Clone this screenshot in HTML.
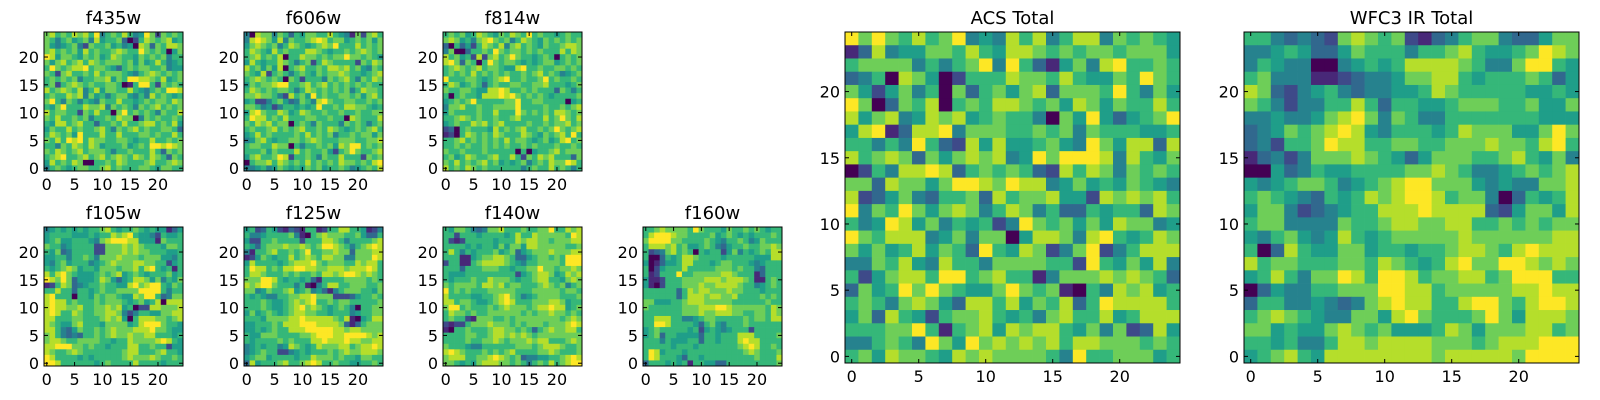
<!DOCTYPE html>
<html><head><meta charset="utf-8"><title>Filter cutouts</title>
<style>
html,body{margin:0;padding:0;background:#fff;}
svg{display:block;font-family:"DejaVu Sans","Liberation Sans",sans-serif;}
</style></head>
<body>
<svg id="fig" width="1600" height="400" viewBox="0 0 1600 400"></svg>
<script>
// Pixel values (0 = darkest, 9 = brightest), rows listed top (y=24) to bottom (y=0)
const f435wRows = [
"7867687869467686459727676","7646756748566730268767856","7545674276675645087376887","7867675867667876697676057",
"9857765767568766576767466","7578678687677767575686456","6976788967765367677667455","7627866768677765467876767",
"6767674667785769988768567","6726787676677601699627676","8678768468577668654676998","6766878475646775464867656",
"7964764654766866567677687","6579666877847676476786767","8677662768660796767647668","7686676746676877047676676",
"6588678663667686678867685","5766867667864767867667763","6876759666866866677676686","7686989687766776566866767",
"6647687687566675676998987","7687678677764667666863767","6789667867867876876876376","5867687006676876667866787",
"4676567766786766677657766"];
const f606wRows = [
"4087747636577668654172786","4898758476678986775676757","5787674687656787966686767","6876586766688765667678767",
"6786768066877676779776765","5865668764672687666627687","8675758067866768878675476","7658267646765767787665678",
"6787676076266647678647687","5767789966786786767676766","6876767764687676767468776","7787764286759676677675786",
"5622467534764897667766767","7764524665656966768877656","5897668756876676676676677","6988676866677667660876668",
"7687867706764766647676467","6766786767866768765676786","5686766667686767466767757","4578656677678766677766778",
"6776687706466767587996767","6667576668676675267976678","5786679826676476686662767","0677868767686767687767689",
"4456457656576756676456768"];
const f814wRows = [
"6767568765768769676656766","7875647897674687657676767","3063526876847867657667887","4700366769767767676668687",
"8675628278679766567606767","8973760697677656567756767","6787678677655896676677676","6767686767676676786764567",
"9666776567896676679676676","6875676367667766778666567","7667765588986676766637646","6067665888989767676566667",
"5676796666677966776666056","4778667667777966667667678","5766667668666976767688767","6678767667667866668679768",
"5676687867866667667677867","2306766658676786676797678","1206876768766687657678696","6678676767686776567568967",
"6676766767676676766676676","7667666766666060566786777","6756876678668627687866637","7686767867565674676877986",
"8676876766666646766867646"];
const f105wRows = [
"4565656566786566765655135","5666655565668789655426556","5675566654789998855517666","7664566662277787876665776",
"6573466662277787877666556","5566466764777877767775546","5467566645678777887766256","6567875665777677868965616",
"8689765556767856765666756","9879735556875356887574657","1268734566766558978996576","6686636656766777799996466",
"8966606657677655879963477","8988676667677765675680888","8988778667787856022887778","8986687667788742466557788",
"8866677666787850688877678","8765578666577775689997665","8864357667678777888977655","7864343667678778778866656",
"7887667777665668777789865","8899977676656668866766255","8766787666666678866678665","9866665656666678777876676",
"9986666665676666866665666"];
const f125wRows = [
"5623652132166126688665124","6445666674106787776675336","5226676666266688764666678","6536777877876799876467898",
"4166786676796677877377788","1257656686787688774477798","5866665678889767776687886","6988676889988778887888986",
"6887666767667688789987876","7779986566563166667777676","8789976664610468866777667","7745766785674531467776657",
"6565446677889777222356676","6667655678789667677666667","6667655678978765676406677","5756765678877665666456677",
"6665777788988888768105688","5566676888999888873136777","5565676688899999887887777","6557776666778999889999878",
"6566667676668898889887788","4565664587656877788678898","4567662245656667678778887","5677566665668777676657766",
"3856667866789866766556676"];
const f140wRows = [
"6577643477866676677966878","6626665666656866877777698","6212666665666878877677788","6666565665757758877777667",
"6864656667567356777877788","6661156778876335677676999","2661167888876546677776999","6663666777665667797767787",
"6555666666666256788756878","6566676687776566788665787","7677776887867766678767467","9676766677777666777776776",
"8666655667897645677776667","8867765567898666777887566","7996766676787776788988567","6877676677777767677877676",
"6766217776676777777776787","2122677787776767776777898","1066766678877676367877886","6666776678878787677777777",
"6666766778767778788666787","7666544666666777678887667","8987666767678666677876667","7888667789876734455667898",
"7765657888776764676867899"];
const f160wRows = [
"6678777769766657667676566","6899987766667567656566676","7999977666676546676457666","6888786755676435667667787",
"6234786760656625746567688","6003656887666656666655588","5013556886665677666545666","6025666866666777676643666",
"6126669667777788766613666","5112666777788878887611676","5102666777877888876645676","6666663687887778776665666",
"6666663688878877866667676","7755566788877777666666766","7666666777888998777777687","6666666777877888776677687",
"6688866445677666667677688","6699866665367546667666666","5676666656256545666266666","5673665555366566688866667",
"6664655566366566689886666","6666656665666666678986676","6985666566666666667876667","6986665366566666666676668",
"3666565616655336666666667"];
const acsRows = [
"9797686794548684688476765","1384557768658876767767775","6777746467949631574896676","3460875026668776865576976",
"7525746073675783777696475","9703768067688767587576686","8578458785676640759535679","5891388947776676747666556",
"6646496328585567549758838","8678737578784597999848657","0264889836767632868747676","7738775799879884575657654",
"8235743667386778552878786","9476975787468746336566387","6459857465624976757587745","9768884574770588748965687",
"7575685763965872479246888","4476854866477776629657584","6257886996786614777878763","3756979765579767106487856",
"6764787538868576836988886","5738652677865647866856888","6667796167858788657472385","4467649759787878688777676",
"6758776587877776496677756"];
const wfc3Rows = [
"6643432787672134677433577","4456533576664667865567987","4654400456568888764479965","6744411234457788656667635",
"8732456434455687666665565","7642446686366556777667557","4454457897476446666666555","3457678985466656877755797",
"3426679886677667778776896","1342477787653577766786574","0053465566667787644567678","5456776456789977754544778",
"6765436568789986774036568","5774234566888988883257758","6774444766788778866767677","5467545865677777877777788",
"6038655775665667887689888","8677666776876568977998787","5686477986998677886799966","0354466777998867777788988",
"3664454347898866899768998","6787654477589766679758887","7756557876755568757778867","6656446887888877767888999",
"5678658888888878888879999"];

const viridis = ["#440154","#482878","#3e4a89","#31688e","#26828e","#1f9e89","#35b779","#6ece58","#b5de2b","#fde725"];
const xTicks = [0,5,10,15,20];
const yTicks = [0,5,10,15,20];
const NS = "http://www.w3.org/2000/svg";
const svg = document.getElementById("fig");

const panels = [
 {title:"f435w", rows:f435wRows, x:44, y:32, w:139, h:139, ticks:[0,5,10,15,20]},
 {title:"f606w", rows:f606wRows, x:244, y:32, w:139, h:139, ticks:[0,5,10,15,20]},
 {title:"f814w", rows:f814wRows, x:443, y:32, w:139, h:139, ticks:[0,5,10,15,20]},
 {title:"f105w", rows:f105wRows, x:44, y:227, w:139, h:139, ticks:[0,5,10,15,20]},
 {title:"f125w", rows:f125wRows, x:244, y:227, w:139, h:139, ticks:[0,5,10,15,20]},
 {title:"f140w", rows:f140wRows, x:443, y:227, w:139, h:139, ticks:[0,5,10,15,20]},
 {title:"f160w", rows:f160wRows, x:643, y:227, w:139, h:139, ticks:[0,5,10,15,20]},
 {title:"ACS Total", rows:acsRows, x:845, y:32, w:335, h:331, ticks:[0,5,10,15,20]},
 {title:"WFC3 IR Total", rows:wfc3Rows, x:1244, y:32, w:335, h:331, ticks:[0,5,10,15,20]}
];

function mk(tag, attrs){const e=document.createElementNS(NS,tag);for(const k in attrs)e.setAttribute(k,attrs[k]);return e;}

panels.forEach(p=>{
  const slug = p.title.toLowerCase().replace(/\s+/g,'-');
  const g = mk("g",{});
  
  
  svg.appendChild(g);
  const n = p.rows.length;
  const cw = p.w/n, ch = p.h/n;
  const xs = v => p.x + (v+0.5)*cw;           // column index -> pixel centre
  const ys = v => p.y + (n-1-v+0.5)*ch;       // row value -> pixel centre
  p.rows.forEach((rowStr, i)=>{
    const r = n-1-i;
    for(let c=0;c<rowStr.length;c++){
      const v = +rowStr[c];
      const rect = mk("rect",{x:(xs(c)-cw/2).toFixed(2), y:(ys(r)-ch/2).toFixed(2), width:(cw+0.35).toFixed(2), height:(ch+0.35).toFixed(2), fill:viridis[v]});
      
      
      g.appendChild(rect);
    }
  });
  const frame = mk("rect",{x:p.x, y:p.y, width:p.w, height:p.h, fill:"none", stroke:"#000", "stroke-width":1});
  
  
  g.appendChild(frame);
  xTicks.forEach(t=>{
    const X = xs(t);
    g.appendChild(mk("line",{x1:X,y1:p.y+p.h,x2:X,y2:p.y+p.h-4,stroke:"#000"}));
    g.appendChild(mk("line",{x1:X,y1:p.y,x2:X,y2:p.y+4,stroke:"#000"}));
    const lab = mk("text",{x:X, y:p.y+p.h+19, "text-anchor":"middle", "font-size":16});
    lab.textContent = t;
    
    
    g.appendChild(lab);
  });
  yTicks.forEach(t=>{
    const Y = ys(t);
    g.appendChild(mk("line",{x1:p.x,y1:Y,x2:p.x+4,y2:Y,stroke:"#000"}));
    g.appendChild(mk("line",{x1:p.x+p.w,y1:Y,x2:p.x+p.w-4,y2:Y,stroke:"#000"}));
    const lab = mk("text",{x:p.x-5, y:Y+6, "text-anchor":"end", "font-size":16});
    lab.textContent = t;
    
    
    g.appendChild(lab);
  });
  const title = mk("text",{x:p.x+p.w/2, y:p.y-8, "text-anchor":"middle", "font-size":18});
  title.textContent = p.title;
  
  
  g.appendChild(title);
});
</script>
</body></html>
